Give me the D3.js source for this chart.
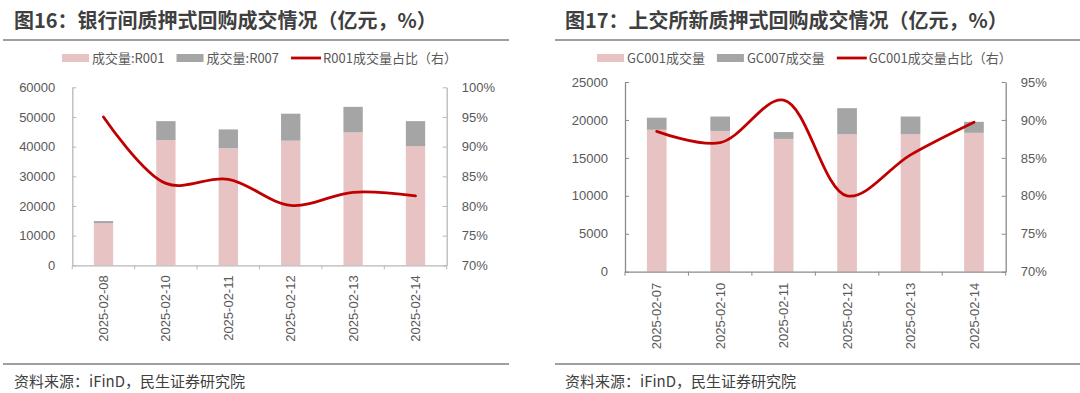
<!DOCTYPE html>
<html>
<head>
<meta charset="utf-8">
<script src="https://cdn.jsdelivr.net/npm/d3@7"></script>
<style>
  body { margin: 0; background: #fff; }
  svg { display: block; font-family: "Noto Sans CJK SC", "Noto Sans", sans-serif; }
  .titulo { font-size: 20px; font-weight: bold; fill: #3f3f3f; }
  .fuente { font-size: 15px; fill: #404040; }
  .leyenda { font-size: 13px; fill: #595959; }
  .eje text { font-size: 13px; fill: #595959; }
</style>
</head>
<body>
<svg width="1080" height="393"></svg>
<script>
// ---- datos: gráfico 16 (银行间) ----
const fechas16 = ["2025-02-08", "2025-02-10", "2025-02-11", "2025-02-12", "2025-02-13", "2025-02-14"];
const r001 = [14250, 42200, 39500, 42000, 44800, 40100];
const r007 = [650, 6400, 6300, 9100, 8600, 8500];
const r001Pct = [95.0, 83.8, 84.5, 80.1, 82.3, 81.7];
const ticksIzq16 = [0, 10000, 20000, 30000, 40000, 50000, 60000];
const ticksDer16 = [70, 75, 80, 85, 90, 95, 100];
const leyenda16 = ["成交量:R001", "成交量:R007", "R001成交量占比（右）"];

// ---- datos: gráfico 17 (上交所) ----
const fechas17 = ["2025-02-07", "2025-02-10", "2025-02-11", "2025-02-12", "2025-02-13", "2025-02-14"];
const gc001 = [18700, 18550, 17500, 18100, 18100, 18300];
const gc007 = [1600, 1900, 900, 3450, 2350, 1450];
const gc001Pct = [88.5, 87.0, 92.6, 80.0, 85.4, 89.7];
const ticksIzq17 = [0, 5000, 10000, 15000, 20000, 25000];
const ticksDer17 = [70, 75, 80, 85, 90, 95];
const leyenda17 = ["GC001成交量", "GC007成交量", "GC001成交量占比（右）"];

const rosa = "#e8c3c3", gris = "#a5a5a5", rojo = "#c00000";
const svg = d3.select("svg");

function panel(cfg) {
  const g = svg.append("g");

  // titulo + linea
  g.append("text").attr("class", "titulo").attr("x", cfg.tx).attr("y", 28).text(cfg.titulo);
  g.append("line").attr("x1", cfg.l1).attr("x2", cfg.l2).attr("y1", 40).attr("y2", 40)
    .attr("stroke", "#404040").attr("stroke-width", 1.2);
  g.append("line").attr("x1", cfg.l1).attr("x2", cfg.l2).attr("y1", 364).attr("y2", 364)
    .attr("stroke", "#404040").attr("stroke-width", 1.2);
  g.append("text").attr("class", "fuente").attr("x", cfg.tx).attr("y", 387)
    .text("资料来源：iFinD，民生证券研究院");

  // escalas
  const x = d3.scaleBand().domain(cfg.fechas).range([cfg.x0, cfg.x1]);
  const y = d3.scaleLinear().domain([0, d3.max(cfg.ticksIzq)]).range([cfg.y1, cfg.y0]);
  const y2 = d3.scaleLinear().domain([d3.min(cfg.ticksDer), d3.max(cfg.ticksDer)]).range([cfg.y1, cfg.y0]);
  const bw = x.bandwidth() * 0.31;

  // barras apiladas
  cfg.fechas.forEach((f, i) => {
    const cx = x(f) + x.bandwidth() / 2;
    g.append("rect").attr("x", cx - bw / 2).attr("width", bw)
      .attr("y", y(cfg.a[i])).attr("height", y(0) - y(cfg.a[i])).attr("fill", rosa);
    g.append("rect").attr("x", cx - bw / 2).attr("width", bw)
      .attr("y", y(cfg.a[i] + cfg.b[i])).attr("height", y(cfg.a[i]) - y(cfg.a[i] + cfg.b[i])).attr("fill", gris);
  });

  // ejes Y
  const ejeIzq = g.append("g").attr("class", "eje").attr("transform", `translate(${cfg.x0},0)`)
    .call(d3.axisRight(y).tickValues(cfg.ticksIzq).tickSize(4).tickSizeOuter(0).tickFormat(d3.format("d")));
  ejeIzq.selectAll("text").attr("x", -17).attr("text-anchor", "end");
  const ejeDer = g.append("g").attr("class", "eje").attr("transform", `translate(${cfg.x1},0)`)
    .call(d3.axisLeft(y2).tickValues(cfg.ticksDer).tickSize(4).tickSizeOuter(0).tickFormat(d => d + "%"));
  ejeDer.selectAll("text").attr("x", 15).attr("text-anchor", "start");
  [ejeIzq, ejeDer].forEach(e => {
    e.select(".domain").attr("stroke", cfg.ejeColor).attr("stroke-width", 1.3);
    e.selectAll(".tick line").attr("stroke", cfg.ejeColor);
  });

  // eje X
  const ejeX = g.append("g").attr("class", "eje").attr("transform", `translate(0,${cfg.y1})`)
    .call(d3.axisBottom(x).tickSize(0).tickSizeOuter(0));
  ejeX.select(".domain").attr("stroke", cfg.ejeColor).attr("stroke-width", 1.3);
  ejeX.selectAll("text")
    .attr("transform", `translate(0,${cfg.labDy}) rotate(-90)`)
    .attr("x", 0).attr("y", 0).attr("dy", "0.35em").attr("text-anchor", "end");
  d3.range(cfg.fechas.length + 1).forEach(i => {
    const xx = cfg.x0 + i * x.step();
    ejeX.append("line").attr("x1", xx).attr("x2", xx).attr("y1", 0).attr("y2", 4).attr("stroke", cfg.ejeColor);
  });

  // linea porcentaje
  const linea = d3.line()
    .x((d, i) => x(cfg.fechas[i]) + x.bandwidth() / 2)
    .y(d => y2(d))
    .curve(d3.curveCatmullRom.alpha(0.5));
  g.append("path").datum(cfg.pct).attr("d", linea)
    .attr("fill", "none").attr("stroke", rojo).attr("stroke-width", 2.8).attr("stroke-linecap", "round");

  // leyenda
  const ley = g.append("g");
  let lx = cfg.legX;
  const ly = 58;
  cfg.leyenda.forEach((t, i) => {
    if (i < 2) {
      ley.append("rect").attr("x", lx).attr("y", ly - 4).attr("width", 27).attr("height", 8)
        .attr("fill", i === 0 ? rosa : gris);
      lx += 30;
    } else {
      ley.append("line").attr("x1", lx).attr("x2", lx + 30).attr("y1", ly).attr("y2", ly)
        .attr("stroke", rojo).attr("stroke-width", 2.8);
      lx += 32;
    }
    const txt = ley.append("text").attr("class", "leyenda").attr("x", lx).attr("y", ly)
      .attr("dy", "0.35em").text(t);
    lx += txt.node().getComputedTextLength() + 12;
  });
}

panel({
  titulo: "图16：银行间质押式回购成交情况（亿元，%）", tx: 14, l1: 3, l2: 509,
  fechas: fechas16, a: r001, b: r007, pct: r001Pct,
  ticksIzq: ticksIzq16, ticksDer: ticksDer16, leyenda: leyenda16,
  x0: 72.3, x1: 446.7, y0: 87.3, y1: 265.3, labDy: 10, legX: 62, ejeColor: "#b8b8b8"
});

panel({
  titulo: "图17：上交所新质押式回购成交情况（亿元，%）", tx: 565, l1: 555, l2: 1080,
  fechas: fechas17, a: gc001, b: gc007, pct: gc001Pct,
  ticksIzq: ticksIzq17, ticksDer: ticksDer17, leyenda: leyenda17,
  x0: 625, x1: 1005.7, y0: 82, y1: 271.7, labDy: 11, legX: 597, ejeColor: "#8a8a8a"
});
</script>
</body>
</html>
